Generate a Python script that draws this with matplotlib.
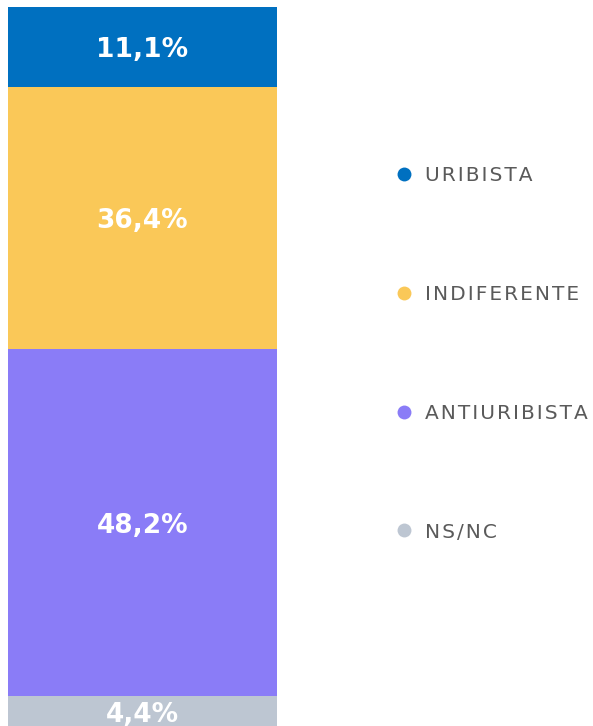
import matplotlib
matplotlib.use("Agg")
import matplotlib.pyplot as plt
from matplotlib.lines import Line2D

categories = ["URIBISTA", "INDIFERENTE", "ANTIURIBISTA", "NS/NC"]
values = [11.1, 36.4, 48.2, 4.4]
labels = ["11,1%", "36,4%", "48,2%", "4,4%"]
colors = ["#0070C0", "#FAC858", "#8A7CF7", "#BDC6D2"]

W, H = 593, 726
fig = plt.figure(figsize=(W / 100, H / 100), dpi=100)
fig.patch.set_facecolor("white")

total = sum(values)
top_px, bottom_px = 7, 7 + total * 7.2
ax = fig.add_axes([8 / W, (H - bottom_px) / H, 269 / W, (bottom_px - top_px) / H])
ax.set_xlim(0, 1)
ax.set_ylim(total, 0)
ax.axis("off")

start = 0
for v, lab, c in zip(values, labels, colors):
    ax.bar(0.5, v, width=1.0, bottom=start, color=c, linewidth=0)
    ax.text(0.5, start + v / 2, lab, ha="center", va="center_baseline", color="white",
            fontsize=19, fontweight="bold", family="DejaVu Sans", clip_on=False)
    start += v


def spaced(s):
    return "\u200a".join(s)


# legend
handles = [Line2D([0], [0], marker="o", linestyle="none", markersize=10,
                  markerfacecolor=c, markeredgewidth=0) for c in colors]
leg = fig.legend(handles, [spaced(c) for c in categories], loc="center left",
                 bbox_to_anchor=(376 / W, 1 - 354 / H), frameon=False,
                 labelspacing=4.95, handletextpad=0.55, handlelength=1.0,
                 prop={"family": "DejaVu Sans", "size": 14.5})
for t in leg.get_texts():
    t.set_color("#5A5A5A")

fig.savefig("out.png", dpi=100)
